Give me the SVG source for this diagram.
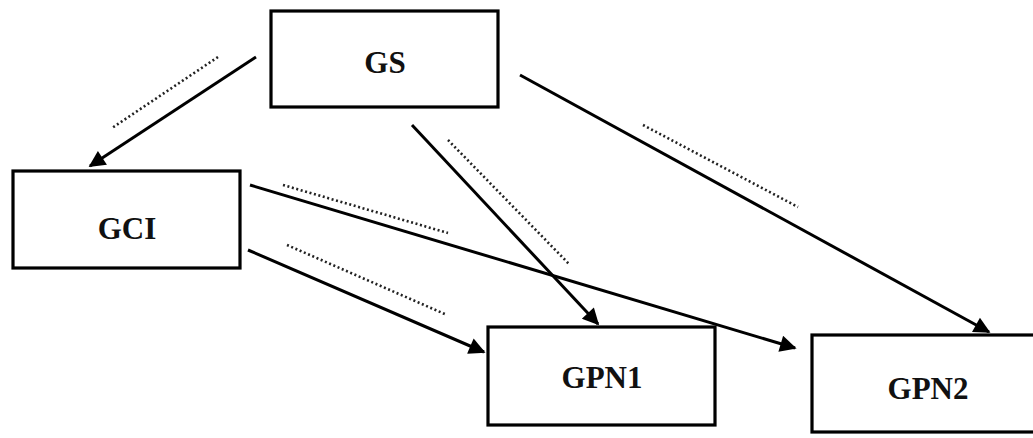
<svg xmlns="http://www.w3.org/2000/svg" width="1033" height="438" viewBox="0 0 1033 438">
<defs>
<style>
.box{fill:#fff;stroke:#000;stroke-width:3.2}
.lbl{font-family:"Liberation Serif","Times New Roman",serif;font-weight:bold;font-size:31px;fill:#111;text-anchor:middle;dominant-baseline:central}
.arr{stroke:#000;stroke-width:3;fill:none;marker-end:url(#ah)}
.dot{stroke:#222;stroke-width:2.6;stroke-dasharray:2 2.6;fill:none}
</style>
<marker id="ah" viewBox="0 0 10 10" refX="9" refY="5" markerWidth="8" markerHeight="5.5" orient="auto" markerUnits="strokeWidth">
<path d="M0,0 L10,5 L0,10 z" fill="#000"/>
</marker>
</defs>
<rect width="1033" height="438" fill="#fff"/>
<g id="connectors">
<line class="arr" x1="256" y1="57" x2="90" y2="166"/>
<line class="dot" x1="218" y1="57" x2="112" y2="128"/>
<line class="arr" x1="412" y1="125" x2="598" y2="324"/>
<line class="dot" x1="448" y1="140" x2="570" y2="265"/>
<line class="arr" x1="520" y1="75" x2="989" y2="332"/>
<line class="dot" x1="643" y1="125" x2="798" y2="207"/>
<line class="arr" x1="250" y1="185" x2="795" y2="348"/>
<line class="dot" x1="283" y1="185" x2="448" y2="233"/>
<line class="arr" x1="248" y1="250" x2="484" y2="352"/>
<line class="dot" x1="287" y1="245" x2="447" y2="315"/>
</g>
<g id="GS">
<rect class="box" x="271" y="11" width="227" height="96"/>
<text class="lbl" x="385" y="62">GS</text>
</g>
<g id="GCI">
<rect class="box" x="13" y="171" width="227" height="97"/>
<text class="lbl" x="127" y="228">GCI</text>
</g>
<g id="GPN1">
<rect class="box" x="488" y="327" width="227" height="98"/>
<text class="lbl" x="602" y="377">GPN1</text>
</g>
<g id="GPN2">
<rect class="box" x="812" y="335" width="225" height="97"/>
<text class="lbl" x="928" y="388">GPN2</text>
</g>
</svg>
